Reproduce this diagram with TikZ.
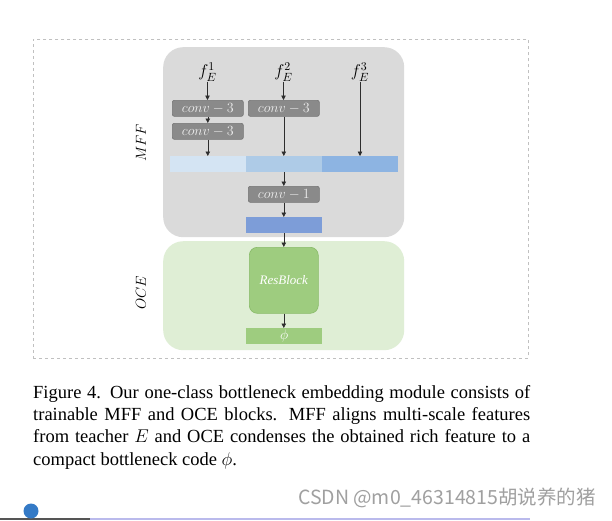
\RequirePackage{fix-cm}
\documentclass[tikz,border=0pt]{standalone}
\usepackage{fontspec}
\setmainfont{Liberation Serif}
\newfontfamily\cjk{Noto Sans CJK SC}
\usetikzlibrary{arrows.meta,positioning}
\definecolor{ink}{RGB}{45,45,45}
\definecolor{frameline}{RGB}{192,192,192}
\definecolor{mffgray}{RGB}{218,218,218}
\definecolor{ocegreen}{RGB}{223,238,213}
\definecolor{convgray}{RGB}{138,138,138}
\definecolor{convedge}{RGB}{116,116,116}
\definecolor{convtext}{RGB}{238,238,238}
\definecolor{featA}{RGB}{212,228,243}
\definecolor{featB}{RGB}{174,203,231}
\definecolor{featC}{RGB}{141,180,226}
\definecolor{fused}{RGB}{125,157,216}
\definecolor{resgreen}{RGB}{158,204,127}
\definecolor{resedge}{RGB}{136,186,104}
\definecolor{marktext}{RGB}{160,160,160}
\definecolor{dotblue}{RGB}{52,122,198}
\definecolor{barlav}{RGB}{186,186,236}
\definecolor{bardark}{RGB}{85,85,85}

\begin{document}
\begin{tikzpicture}[
  x=1pt, y=-1pt,
  panel/.style={rounded corners=20pt, anchor=north west, inner sep=0pt, minimum width=241pt},
  convbox/.style={draw=convedge, fill=convgray, rounded corners=2pt, line width=0.6pt, anchor=north west,
    minimum width=71pt, minimum height=16pt, inner sep=0pt, text=convtext, font=\fontsize{14}{15}\selectfont},
  featbar/.style={anchor=north west, minimum width=76pt, minimum height=16pt, inner sep=0pt},
  flow/.style={-{Triangle[length=4.5pt,width=4.5pt]}, line width=0.6pt, draw=ink},
  featlab/.style={font=\fontsize{17}{18}\selectfont, inner sep=0.5pt},
  blocklab/.style={rotate=90, font=\fontsize{14.5}{16}\selectfont, inner sep=0pt},
]
\fill[white] (0,0) rectangle (612,520);
\useasboundingbox (0,0) rectangle (612,520);
% ---------------------------------------------------------------- panels
\node[draw=frameline, dashed, line width=0.8pt, anchor=north west, minimum width=495pt, minimum height=319pt, inner sep=0pt] (frame) at (33,39) {};
\node[panel, fill=mffgray, minimum height=190pt] (mff) at (163,47) {};
\node[panel, fill=ocegreen, minimum height=109pt] (oce) at (163,241) {};
\node[blocklab] (mfflab) at (141,143) {$MFF$};
\node[blocklab] (ocelab) at (141,293) {$OCE$};

% ---------------------------------------------------------------- nodes
\node[featlab] (f1) at (207.5,72) {$f_E^1$};
\node[featlab] (f2) at (283.5,72) {$f_E^2$};
\node[featlab] (f3) at (360,72) {$f_E^3$};

\node[convbox] (c11) at (172,100) {$conv-3$};
\node[convbox] (c12) at (172,123) {$conv-3$};
\node[convbox] (c21) at (248,100) {$conv-3$};

\node[featbar, fill=featA] (s1) at (170,156) {};
\node[featbar, fill=featB] (s2) at (246,156) {};
\node[featbar, fill=featC] (s3) at (322,156) {};

\node[convbox] (c1) at (248,186) {$conv-1$};
\node[featbar, fill=fused] (fuse) at (246,217) {};

\node[draw=resedge, fill=resgreen, rounded corners=8pt, line width=0.6pt, anchor=north west,
  minimum width=69pt, minimum height=66pt, inner sep=0pt, text=white, font=\fontsize{13}{14}\selectfont] (res) at (249,247) {$\mathit{ResBlock}$};
\node[featbar, fill=resgreen, text=white, font=\fontsize{14}{15}\selectfont] (phi) at (246,328) {$\phi$};

% ---------------------------------------------------------------- edges
\draw[flow] (f1.south) -- (f1.south |- c11.north);
\draw[flow] (c11.south) -- (c12.north);
\draw[flow] (c12.south) -- (c12.south |- s1.north);
\draw[flow] (f2.south) -- (f2.south |- c21.north);
\draw[flow] (c21.south) -- (c21.south |- s2.north);
\draw[flow] (f3.south) -- (f3.south |- s3.north);
\draw[flow] (c1.north |- s2.south) -- (c1.north);
\draw[flow] (c1.south) -- (c1.south |- fuse.north);
\draw[flow] (res.north |- fuse.south) -- (res.north);
\draw[flow] (res.south) -- (res.south |- phi.north);

% ---------------------------------------------------------------- caption
\node[anchor=north west, text width=497pt, align=justify, inner sep=0pt, font=\fontsize{18.5}{22.3}\selectfont] (caption) at (33,385)
  {Figure 4. Our one-class bottleneck embedding module consists of\linebreak
   trainable MFF and OCE blocks. MFF aligns multi-scale features\linebreak
   from teacher $E$ and OCE condenses the obtained rich feature to a\linebreak
   compact bottleneck code $\phi$.};

% ---------------------------------------------------------------- page marks
\node[anchor=east, text=marktext, font=\cjk\fontsize{19.5}{20}\selectfont, inner sep=0pt] (mark) at (596,498) {CSDN @m0\_46314815胡说养的猪};
\draw[bardark, line width=2pt] (0,519) -- (90,519);
\draw[barlav, line width=2pt] (90,519) -- (530,519);
\fill[dotblue] (31,511) circle (7.5);
\end{tikzpicture}
\end{document}
